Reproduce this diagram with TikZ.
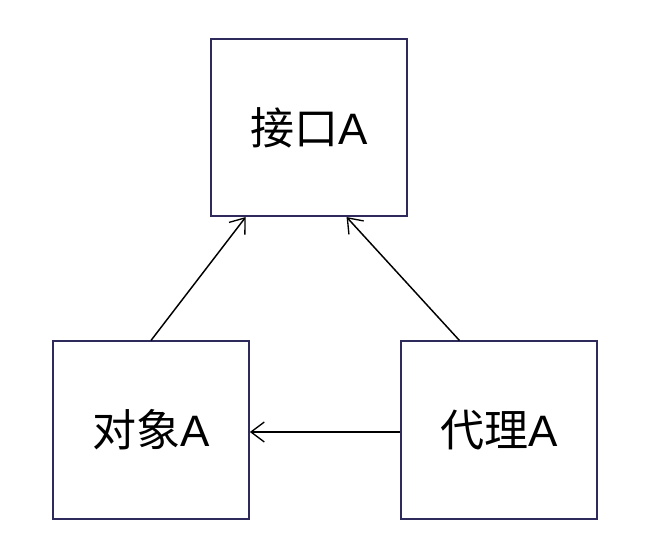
\documentclass[tikz,border=0pt]{standalone}
\usepackage{fontspec}
\setmainfont{Liberation Sans}
\newfontfamily\cjk{Noto Sans CJK SC}
\usetikzlibrary{calc,arrows.meta}

\definecolor{boxline}{RGB}{46,42,92}

\begin{document}
\begin{tikzpicture}[x=0.75pt, y=-0.75pt,
    box/.style={draw=boxline, line width=1.3pt, minimum width=147pt, minimum height=133pt, inner sep=0pt, font=\fontsize{33}{38}\selectfont},
    link/.style={-{Straight Barb[length=10pt, width=15pt, line width=1pt]}, line width=1.1pt}]
        \useasboundingbox (0,0) rectangle (654,560);

        \node[box] (iface) at (309, 127.5) {{\cjk 接口}A};
        \node[box] (obj) at (151, 430) {{\cjk 对象}A};
        \node[box] (proxy) at (499, 430) {{\cjk 代理}A};

        % arrows to the interface
        \draw[link] (obj.north) -- ($(iface.south west)!0.18!(iface.south east)$);
        \draw[link] ($(proxy.north west)!0.3!(proxy.north east)$) -- ($(iface.south west)!0.69!(iface.south east)$);
        \draw[link] (proxy.west |- 0,432) -- (obj.east |- 0,432);
    \end{tikzpicture}
\end{document}
